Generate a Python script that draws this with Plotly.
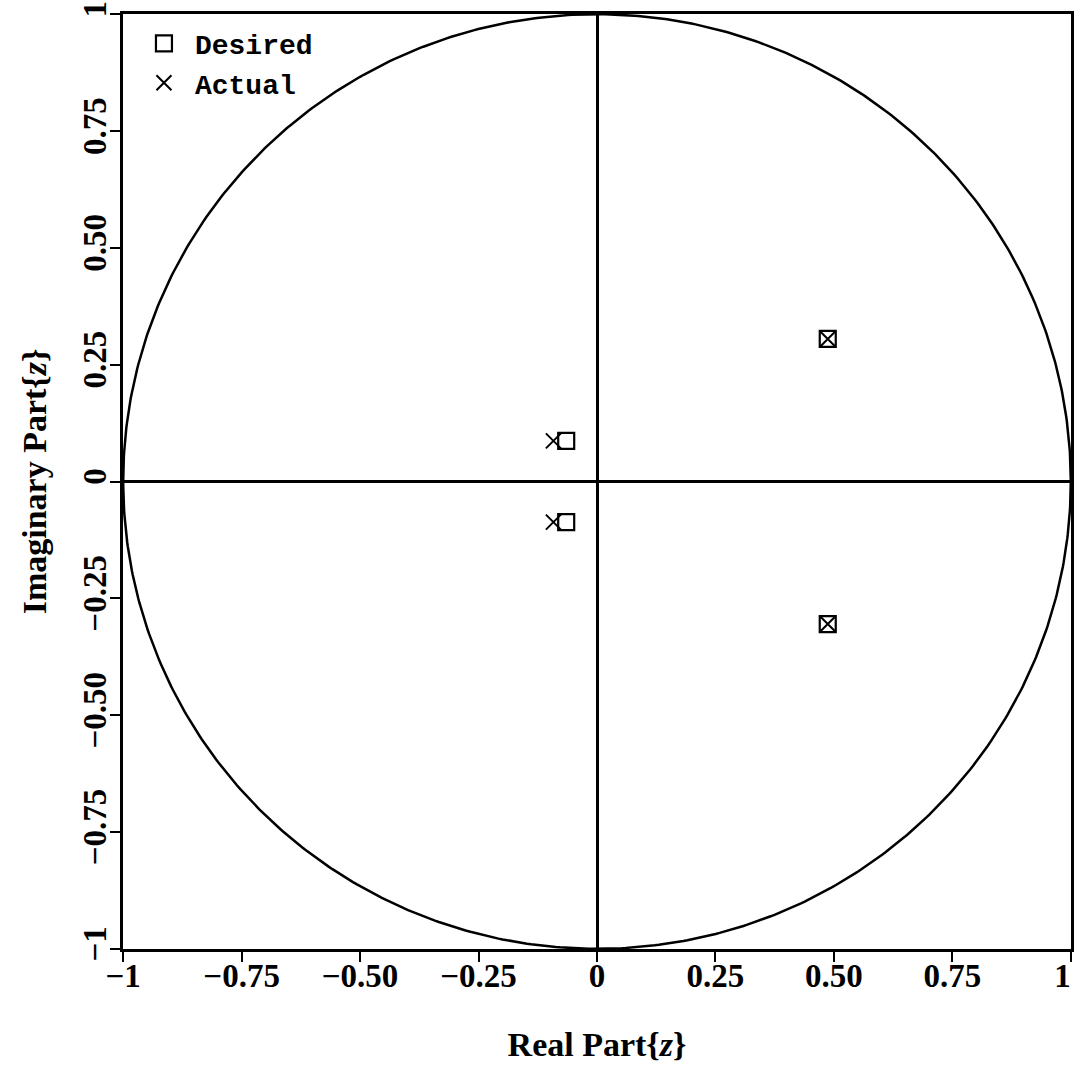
import numpy as np
import plotly.graph_objects as go

# Data
desired_re = [0.487, 0.487, -0.065, -0.065]
desired_im = [0.305, -0.305, 0.087, -0.087]
actual_re = [0.487, 0.487, -0.092, -0.092]
actual_im = [0.305, -0.305, 0.087, -0.087]
tick_vals = [-1, -0.75, -0.5, -0.25, 0, 0.25, 0.5, 0.75, 1]
x_tick_text = ["\u22121", "\u22120.75", "\u22120.50", "\u22120.25", "0", "0.25", "0.50", "0.75", "1\u2002"]
y_tick_text = ["\u22121", "\u22120.75", "\u22120.50", "\u22120.25", "0", "0.25", "0.50", "0.75", "1"]

theta = np.linspace(0, 2 * np.pi, 721)

fig = go.Figure()
fig.add_trace(go.Scatter(x=np.cos(theta), y=np.sin(theta), mode="lines",
                         line=dict(color="black", width=2.5), showlegend=False,
                         hoverinfo="skip"))
fig.add_trace(go.Scatter(x=desired_re, y=desired_im, mode="markers", name="Desired",
                         marker=dict(symbol="square-open", size=16, color="black",
                                     line=dict(width=2.2, color="black"))))
fig.add_trace(go.Scatter(x=actual_re, y=actual_im, mode="markers", name="Actual",
                         marker=dict(symbol="x-thin-open", size=15, color="black",
                                     line=dict(width=2, color="black"))))

serif = "Liberation Serif, DejaVu Serif, serif"
axis_common = dict(
    range=[-1.0004, 1.0004], tickvals=tick_vals,
    ticks="outside", ticklen=10, tickwidth=1.5, tickcolor="black",
    showline=True, linewidth=3, linecolor="black", mirror=True,
    showgrid=False, zeroline=True, zerolinecolor="black", zerolinewidth=2.5,
    tickfont=dict(family=serif, size=33, color="black", weight="bold"),
    automargin=False, ticklabeloverflow="allow",
)

fig.update_layout(
    width=1074, height=1078,
    margin=dict(l=123, r=3, t=14, b=129),
    plot_bgcolor="white", paper_bgcolor="white",
    xaxis=dict(**axis_common, ticktext=x_tick_text, ticklabelstandoff=-15,
               title=dict(text="<b>Real Part{<i>z</i>}</b>",
                          font=dict(family=serif, size=34, color="black"),
                          standoff=40)),
    yaxis=dict(**axis_common, ticktext=y_tick_text, tickangle=-90, ticklabelstandoff=-9,
               title=dict(text="<b>Imaginary Part{<i>z</i>}</b>",
                          font=dict(family=serif, size=34, color="black"),
                          standoff=20)),
    legend=dict(x=0.0105, y=0.995, xanchor="left", yanchor="top",
                bgcolor="rgba(0,0,0,0)", borderwidth=0,
                font=dict(family="Liberation Mono, DejaVu Sans Mono, monospace",
                          size=28, color="black", weight="bold"),
                itemwidth=52, tracegroupgap=4),
    showlegend=True,
)

fig.write_html("out.html")
